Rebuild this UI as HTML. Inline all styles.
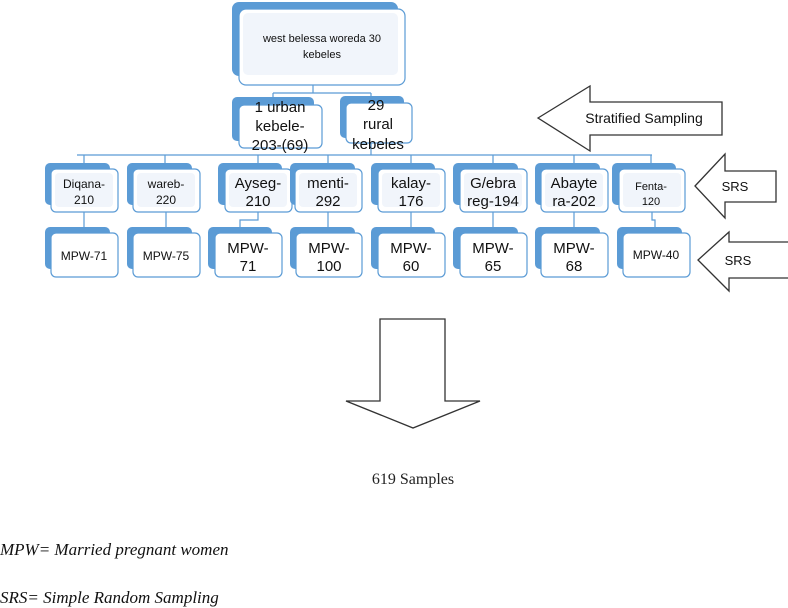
<!DOCTYPE html>
<html><head><meta charset="utf-8"><style>
html,body{margin:0;padding:0;background:#fff;}
svg{display:block}
.b{fill:#5b9bd5}
.w{fill:#fff;stroke:#5b9bd5;stroke-width:1.2}
.in{fill:#f1f5fb}
.t{font-family:"Liberation Sans",sans-serif;fill:#111;text-anchor:middle}
.c{stroke:#5b9bd5;stroke-width:1.2;fill:none}
.ar{fill:#fff;stroke:#333;stroke-width:1.3}
</style></head><body>
<svg width="788" height="608" viewBox="0 0 788 608" xmlns="http://www.w3.org/2000/svg">
<path class="c" d="M313 85V93M273 93H371M273 93V98M371 93V97"/>
<path class="c" d="M77 155H652M371 143V155M84 155V163M165 155V163M258 155V163M328 155V163M411 155V163M493 155V163M574 155V163M651 155V163"/>
<path class="c" d="M84 212V227M166 212V227M258 212V220H240V227M328 212V227M411 212V227M493 212V227M574 212V227M652 212V220H655V227"/>
<rect class="b" x="232" y="2" width="166" height="74" rx="7"/>
<rect class="w" x="239" y="9" width="166" height="76" rx="7"/>
<rect class="in" x="243" y="13" width="155" height="62" rx="5"/>
<text class="t" x="322" y="42" font-size="11">west belessa woreda 30</text>
<text class="t" x="322" y="58" font-size="11">kebeles</text>
<rect class="b" x="232" y="97" width="82" height="44" rx="5"/>
<rect class="w" x="239" y="105" width="83" height="43" rx="5"/>
<text class="t" x="280" y="112" font-size="15">1 urban</text>
<text class="t" x="280" y="131" font-size="15">kebele-</text>
<text class="t" x="280" y="150" font-size="15">203-(69)</text>
<rect class="b" x="340" y="96" width="64" height="42" rx="5"/>
<rect class="w" x="346" y="103" width="66" height="40" rx="5"/>
<text class="t" x="376" y="110" font-size="15">29</text>
<text class="t" x="378" y="129" font-size="15">rural</text>
<text class="t" x="378" y="149" font-size="15">kebeles</text>
<g>
<rect class="b" x="45" y="163" width="65" height="42" rx="5"/><rect class="w" x="51" y="169" width="67" height="43" rx="5"/><rect class="in" x="55" y="173" width="58" height="34" rx="4"/>
<text class="t" x="84" y="188" font-size="12">Diqana-</text><text class="t" x="84" y="204" font-size="12">210</text>
<rect class="b" x="127" y="163" width="65" height="42" rx="5"/><rect class="w" x="133" y="169" width="67" height="43" rx="5"/><rect class="in" x="137" y="173" width="58" height="34" rx="4"/>
<text class="t" x="166" y="188" font-size="12">wareb-</text><text class="t" x="166" y="204" font-size="12">220</text>
<rect class="b" x="218" y="163" width="64" height="42" rx="5"/><rect class="w" x="225" y="169" width="67" height="43" rx="5"/><rect class="in" x="229" y="173" width="58" height="34" rx="4"/>
<text class="t" x="258" y="188" font-size="15">Ayseg-</text><text class="t" x="258" y="206" font-size="15">210</text>
<rect class="b" x="290" y="163" width="65" height="42" rx="5"/><rect class="w" x="295" y="169" width="67" height="43" rx="5"/><rect class="in" x="299" y="173" width="58" height="34" rx="4"/>
<text class="t" x="328" y="188" font-size="15">menti-</text><text class="t" x="328" y="206" font-size="15">292</text>
<rect class="b" x="371" y="163" width="64" height="42" rx="5"/><rect class="w" x="378" y="169" width="67" height="43" rx="5"/><rect class="in" x="382" y="173" width="58" height="34" rx="4"/>
<text class="t" x="411" y="188" font-size="15">kalay-</text><text class="t" x="411" y="206" font-size="15">176</text>
<rect class="b" x="453" y="163" width="65" height="42" rx="5"/><rect class="w" x="460" y="169" width="67" height="43" rx="5"/><rect class="in" x="464" y="173" width="58" height="34" rx="4"/>
<text class="t" x="493" y="188" font-size="15">G/ebra</text><text class="t" x="493" y="206" font-size="15">reg-194</text>
<rect class="b" x="535" y="163" width="65" height="42" rx="5"/><rect class="w" x="541" y="169" width="67" height="43" rx="5"/><rect class="in" x="545" y="173" width="58" height="34" rx="4"/>
<text class="t" x="574" y="188" font-size="15">Abayte</text><text class="t" x="574" y="206" font-size="15">ra-202</text>
<rect class="b" x="612" y="163" width="64" height="42" rx="5"/><rect class="w" x="619" y="169" width="66" height="43" rx="5"/><rect class="in" x="623" y="173" width="58" height="34" rx="4"/>
<text class="t" x="651" y="190" font-size="11">Fenta-</text><text class="t" x="651" y="205" font-size="11">120</text>
</g>
<g>
<rect class="b" x="45" y="227" width="65" height="42" rx="5"/><rect class="w" x="51" y="233" width="67" height="44" rx="5"/>
<text class="t" x="84" y="260" font-size="12">MPW-71</text>
<rect class="b" x="127" y="227" width="65" height="42" rx="5"/><rect class="w" x="133" y="233" width="67" height="44" rx="5"/>
<text class="t" x="166" y="260" font-size="12">MPW-75</text>
<rect class="b" x="208" y="227" width="64" height="42" rx="5"/><rect class="w" x="215" y="233" width="67" height="44" rx="5"/>
<text class="t" x="248" y="253" font-size="15">MPW-</text><text class="t" x="248" y="271" font-size="15">71</text>
<rect class="b" x="290" y="227" width="65" height="42" rx="5"/><rect class="w" x="296" y="233" width="66" height="44" rx="5"/>
<text class="t" x="329" y="253" font-size="15">MPW-</text><text class="t" x="329" y="271" font-size="15">100</text>
<rect class="b" x="371" y="227" width="64" height="42" rx="5"/><rect class="w" x="378" y="233" width="67" height="44" rx="5"/>
<text class="t" x="411" y="253" font-size="15">MPW-</text><text class="t" x="411" y="271" font-size="15">60</text>
<rect class="b" x="453" y="227" width="65" height="42" rx="5"/><rect class="w" x="460" y="233" width="67" height="44" rx="5"/>
<text class="t" x="493" y="253" font-size="15">MPW-</text><text class="t" x="493" y="271" font-size="15">65</text>
<rect class="b" x="535" y="227" width="65" height="42" rx="5"/><rect class="w" x="541" y="233" width="67" height="44" rx="5"/>
<text class="t" x="574" y="253" font-size="15">MPW-</text><text class="t" x="574" y="271" font-size="15">68</text>
<rect class="b" x="617" y="227" width="65" height="42" rx="5"/><rect class="w" x="623" y="233" width="67" height="44" rx="5"/>
<text class="t" x="656" y="259" font-size="12">MPW-40</text>
</g>
<polygon class="ar" points="538,118 590,86 590,102 722,102 722,135 590,135 590,151"/>
<text class="t" x="644" y="123" font-size="14">Stratified Sampling</text>
<polygon class="ar" points="695,186 725,154 725,171 776,171 776,202 725,202 725,218"/>
<text class="t" x="735" y="191" font-size="13">SRS</text>
<polygon class="ar" points="698,260 729,232 729,242 790,242 790,278 729,278 729,291"/>
<text class="t" x="738" y="265" font-size="13">SRS</text>
<polygon class="ar" points="380,319 445,319 445,401 480,401 413,428 346,401 380,401"/>
<text x="413" y="484" font-family="Liberation Serif,serif" font-size="16" text-anchor="middle" fill="#222">619 Samples</text>
<text x="0" y="555" font-family="Liberation Serif,serif" font-style="italic" font-size="17" fill="#111">MPW= Married pregnant women</text>
<text x="0" y="603" font-family="Liberation Serif,serif" font-style="italic" font-size="17" fill="#111">SRS= Simple Random Sampling</text>
</svg>
</body></html>
